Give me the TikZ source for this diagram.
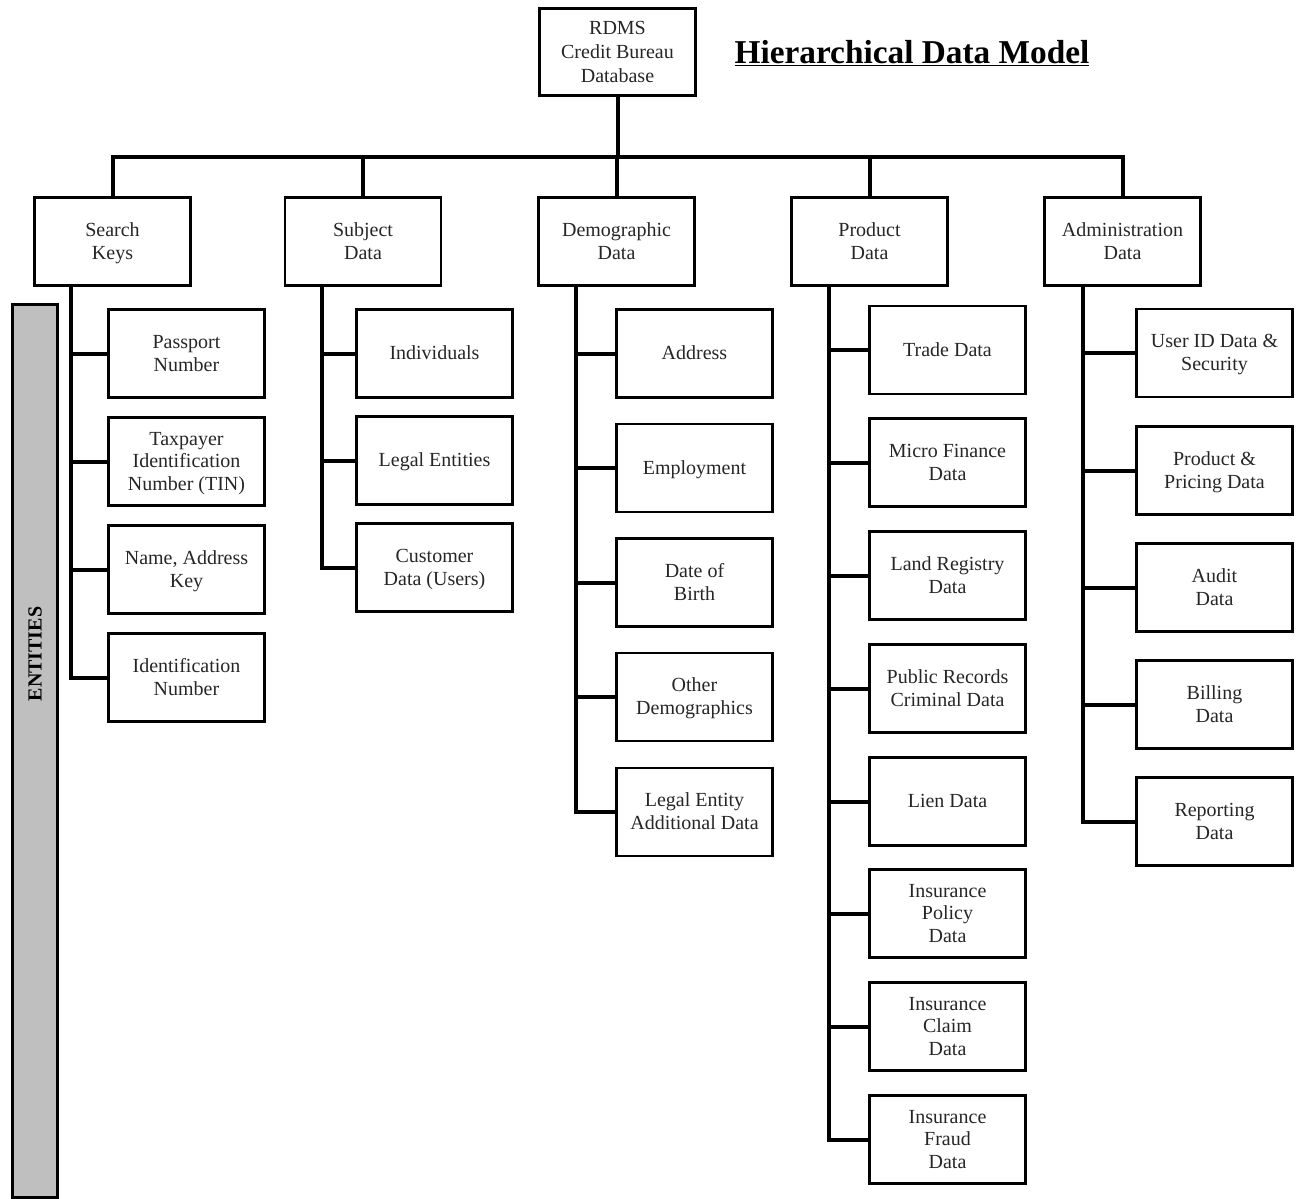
\documentclass[tikz,border=0pt]{standalone}
\usepackage{fontspec}
\setmainfont{Liberation Serif}
\begin{document}
\begin{tikzpicture}[x=0.75pt,y=-0.75pt,
  box/.style={draw,line width=2.2pt,minimum width=117pt,minimum height=66pt,
    inner sep=0pt,text width=112pt,align=flush center,text=black!85,font=\fontsize{15}{17}\selectfont,
    execute at begin node={\rule{0pt}{12.5pt}},
    execute at end node={\rule[-3.2pt]{0pt}{0pt}}},
  link/.style={line width=3pt}]
\useasboundingbox (0,0) rectangle (1300,1199);
% Root and title
\node[box,minimum height=65pt,font=\fontsize{15}{18}\selectfont] (root) at (617.5,52) {RDMS\\Credit Bureau\\Database};
\node[font=\bfseries\fontsize{25}{28}\selectfont] (title) at (912,53) {\underline{Hierarchical Data Model}};
% Side bar
\node[draw,line width=2.2pt,fill=black!25,minimum width=34pt,minimum height=670pt,inner sep=0pt] (bar) at (35,751) {};
\node[rotate=90,font=\bfseries\fontsize{15}{17}\selectfont] (ent) at (35,654) {ENTITIES};
% Top level groups
\node[box] (keys) at (112.5,241.5) {Search\\Keys};
\node[box] (subj) at (363,241.5) {Subject\\Data};
\node[box] (demo) at (616.5,241.5) {Demographic\\Data};
\node[box] (prod) at (869.5,241.5) {Product\\Data};
\node[box] (admin) at (1122.5,241.5) {Administration\\Data};
% Bus from root down to the groups
\coordinate (bus) at (617.5,157);
\foreach \g in {keys,subj,demo,prod,admin}
  \draw[link] (root.south) -- (root.south |- bus) -| (\g.north);
% Search keys
\node[box] (pass) at (186.5,353.5) {Passport\\Number};
\node[box] (tin) at (186.5,461.5) {Taxpayer\\Identification\\Number (TIN)};
\node[box] (nak) at (186.5,569.5) {Name, Address\\Key};
\node[box] (idn) at (186.5,677.5) {Identification\\Number};
\foreach \c in {pass,tin,nak,idn}
  \draw[link] ([xshift=28.5pt]keys.south west) |- (\c.west);
% Subject data
\node[box] (indiv) at (434.5,353.5) {Individuals};
\node[box] (legal) at (434.5,460.5) {Legal Entities};
\node[box] (cust) at (434.5,567.5) {Customer\\Data (Users)};
\foreach \c in {indiv,legal,cust}
  \draw[link] ([xshift=28.5pt]subj.south west) |- (\c.west);
% Demographic data
\node[box] (addr) at (694.5,353.5) {Address};
\node[box] (empl) at (694.5,468) {Employment};
\node[box] (dob) at (694.5,582.5) {Date of\\Birth};
\node[box] (other) at (694.5,697) {Other\\Demographics};
\node[box] (lead) at (694.5,812) {Legal Entity\\Additional Data};
\foreach \c in {addr,empl,dob,other,lead}
  \draw[link] ([xshift=29.25pt]demo.south west) |- (\c.west);
% Product data
\node[box] (trade) at (947.5,350) {Trade Data};
\node[box] (micro) at (947.5,462.5) {Micro Finance\\Data};
\node[box] (land) at (947.5,575.5) {Land Registry\\Data};
\node[box] (pubrec) at (947.5,688.5) {Public Records\\Criminal Data};
\node[box] (lien) at (947.5,801.5) {Lien Data};
\node[box] (ipol) at (947.5,913.5) {Insurance\\Policy\\Data};
\node[box] (iclaim) at (947.5,1026.5) {Insurance\\Claim\\Data};
\node[box] (ifraud) at (947.5,1139.5) {Insurance\\Fraud\\Data};
\foreach \c in {trade,micro,land,pubrec,lien,ipol,iclaim,ifraud}
  \draw[link] ([xshift=29.25pt]prod.south west) |- (\c.west);
% Administration data
\node[box] (user) at (1214.5,353) {User ID Data \&\\Security};
\node[box] (price) at (1214.5,470.5) {Product \&\\Pricing Data};
\node[box] (audit) at (1214.5,587.5) {Audit\\Data};
\node[box] (bill) at (1214.5,704.5) {Billing\\Data};
\node[box] (report) at (1214.5,821.5) {Reporting\\Data};
\foreach \c in {user,price,audit,bill,report}
  \draw[link] ([xshift=30pt]admin.south west) |- (\c.west);
\end{tikzpicture}
\end{document}
